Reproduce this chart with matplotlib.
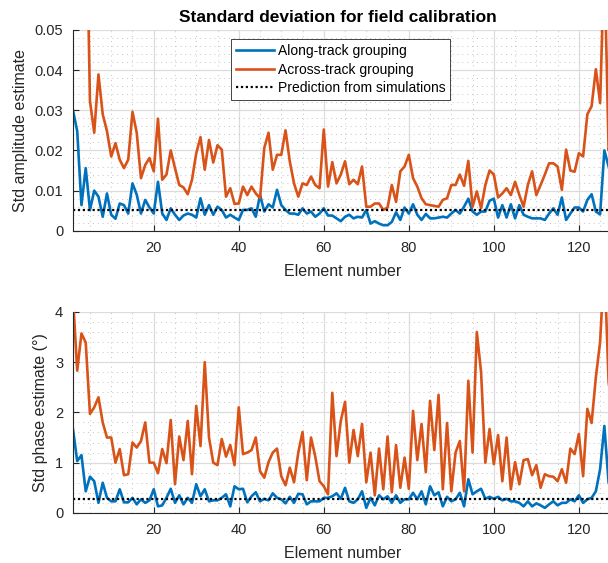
import numpy as np
import matplotlib
matplotlib.use("Agg")
import matplotlib.pyplot as plt
from matplotlib.ticker import MultipleLocator

plt.rcParams['font.family'] = ['Liberation Sans', 'DejaVu Sans']

# element index 1..128
elements = np.arange(1, 129)

# std of amplitude estimate
amp_along = [
    0.0300, 0.0248, 0.0064, 0.0156, 0.0052, 0.0100, 0.0085, 0.0035, 0.0093, 0.0040,
    0.0030, 0.0068, 0.0064, 0.0043, 0.0118, 0.0090, 0.0043, 0.0077, 0.0058, 0.0043,
    0.0122, 0.0043, 0.0027, 0.0056, 0.0040, 0.0027, 0.0038, 0.0043, 0.0040, 0.0033,
    0.0081, 0.0040, 0.0064, 0.0040, 0.0060, 0.0052, 0.0033, 0.0040, 0.0033, 0.0027,
    0.0052, 0.0052, 0.0056, 0.0035, 0.0090, 0.0048, 0.0066, 0.0058, 0.0102, 0.0064,
    0.0052, 0.0043, 0.0043, 0.0040, 0.0056, 0.0043, 0.0048, 0.0035, 0.0043, 0.0056,
    0.0038, 0.0038, 0.0031, 0.0024, 0.0035, 0.0040, 0.0031, 0.0035, 0.0033, 0.0052,
    0.0018, 0.0024, 0.0018, 0.0014, 0.0014, 0.0022, 0.0046, 0.0027, 0.0058, 0.0043,
    0.0066, 0.0040, 0.0027, 0.0042, 0.0031, 0.0031, 0.0033, 0.0035, 0.0033, 0.0043,
    0.0052, 0.0043, 0.0060, 0.0080, 0.0048, 0.0040, 0.0048, 0.0048, 0.0075, 0.0080,
    0.0033, 0.0064, 0.0033, 0.0066, 0.0031, 0.0064, 0.0040, 0.0035, 0.0031, 0.0031,
    0.0031, 0.0027, 0.0043, 0.0056, 0.0040, 0.0083, 0.0027, 0.0043, 0.0058, 0.0058,
    0.0048, 0.0077, 0.0091, 0.0048, 0.0041, 0.0200, 0.0160, 0.0120,
]
amp_across = [
    0.1100, 0.1000, 0.0950, 0.0900, 0.0323, 0.0244, 0.0389, 0.0290, 0.0248, 0.0185,
    0.0218, 0.0177, 0.0156, 0.0177, 0.0296, 0.0244, 0.0131, 0.0164, 0.0181, 0.0148,
    0.0279, 0.0127, 0.0140, 0.0200, 0.0156, 0.0114, 0.0108, 0.0091, 0.0127, 0.0193,
    0.0233, 0.0152, 0.0226, 0.0170, 0.0213, 0.0202, 0.0085, 0.0106, 0.0067, 0.0068,
    0.0110, 0.0089, 0.0110, 0.0093, 0.0081, 0.0206, 0.0244, 0.0152, 0.0189, 0.0189,
    0.0250, 0.0173, 0.0118, 0.0085, 0.0118, 0.0114, 0.0135, 0.0114, 0.0106, 0.0252,
    0.0110, 0.0171, 0.0118, 0.0140, 0.0173, 0.0116, 0.0127, 0.0116, 0.0160, 0.0060,
    0.0060, 0.0068, 0.0068, 0.0052, 0.0058, 0.0114, 0.0072, 0.0148, 0.0160, 0.0189,
    0.0131, 0.0110, 0.0081, 0.0066, 0.0064, 0.0062, 0.0060, 0.0077, 0.0081, 0.0114,
    0.0114, 0.0140, 0.0112, 0.0174, 0.0060, 0.0098, 0.0056, 0.0114, 0.0150, 0.0140,
    0.0083, 0.0093, 0.0106, 0.0089, 0.0122, 0.0089, 0.0060, 0.0114, 0.0148, 0.0089,
    0.0114, 0.0140, 0.0168, 0.0168, 0.0160, 0.0102, 0.0202, 0.0150, 0.0147, 0.0193,
    0.0185, 0.0290, 0.0310, 0.0402, 0.0318, 0.0680, 0.0200, 0.0250,
]
amp_predicted = 0.0053

# std of phase estimate (degrees)
phase_along = [
    1.67, 1.03, 1.15, 0.43, 0.72, 0.63, 0.20, 0.60, 0.30, 0.23,
    0.23, 0.47, 0.21, 0.21, 0.30, 0.17, 0.27, 0.20, 0.25, 0.47,
    0.13, 0.15, 0.30, 0.48, 0.20, 0.35, 0.17, 0.30, 0.20, 0.57,
    0.33, 0.47, 0.23, 0.25, 0.25, 0.30, 0.37, 0.13, 0.53, 0.47,
    0.48, 0.21, 0.33, 0.41, 0.23, 0.28, 0.25, 0.39, 0.30, 0.27,
    0.19, 0.32, 0.20, 0.38, 0.37, 0.17, 0.23, 0.23, 0.23, 0.30,
    0.30, 0.33, 0.39, 0.28, 0.50, 0.23, 0.20, 0.27, 0.43, 0.10,
    0.30, 0.15, 0.35, 0.27, 0.33, 0.20, 0.35, 0.20, 0.27, 0.27,
    0.40, 0.27, 0.43, 0.17, 0.53, 0.35, 0.41, 0.13, 0.32, 0.23,
    0.27, 0.40, 0.13, 0.67, 0.37, 0.43, 0.48, 0.28, 0.32, 0.28,
    0.32, 0.25, 0.28, 0.23, 0.23, 0.20, 0.13, 0.23, 0.13, 0.19,
    0.15, 0.10, 0.17, 0.23, 0.15, 0.20, 0.20, 0.27, 0.23, 0.35,
    0.20, 0.27, 0.30, 0.43, 0.87, 1.73, 0.60, 0.40,
]
phase_across = [
    4.30, 2.83, 3.57, 3.39, 1.97, 2.10, 2.30, 1.80, 1.50, 1.50,
    1.00, 1.27, 0.75, 0.77, 1.40, 1.30, 1.43, 1.80, 1.00, 1.00,
    0.79, 1.27, 0.99, 1.85, 0.57, 1.52, 1.05, 1.83, 0.77, 2.13,
    1.33, 3.00, 1.50, 1.00, 0.95, 1.47, 1.12, 1.35, 0.95, 2.10,
    1.17, 1.20, 1.25, 1.50, 0.83, 0.70, 1.01, 1.20, 1.28, 0.73,
    0.55, 0.90, 0.61, 1.20, 1.61, 0.65, 1.50, 1.12, 0.63, 0.53,
    0.37, 2.39, 1.13, 1.83, 2.21, 1.00, 1.65, 1.13, 1.77, 0.61,
    1.20, 0.35, 1.28, 0.47, 1.52, 0.41, 1.35, 0.50, 1.10, 0.48,
    2.03, 1.05, 1.77, 0.81, 2.23, 1.25, 2.35, 0.47, 1.79, 0.43,
    1.20, 1.43, 0.43, 2.63, 1.20, 3.60, 2.80, 1.00, 1.67, 0.97,
    1.55, 0.63, 1.50, 0.47, 1.01, 0.57, 1.05, 1.07, 0.75, 0.95,
    0.50, 0.77, 0.73, 0.72, 0.63, 0.87, 0.60, 1.28, 1.17, 1.57,
    0.73, 2.07, 1.79, 2.70, 3.40, 5.00, 2.60, 2.00,
]
phase_predicted = 0.28

BLUE = '#0072BD'
ORANGE = '#D95319'
DARK = '#262626'


def style_axes(ax, ymax, ymajor, yminor):
    ax.set_xlim(1, 128)
    ax.set_ylim(0, ymax)
    ax.xaxis.set_major_locator(MultipleLocator(20))
    ax.xaxis.set_minor_locator(MultipleLocator(5))
    ax.yaxis.set_major_locator(MultipleLocator(ymajor))
    ax.yaxis.set_minor_locator(MultipleLocator(yminor))
    ax.grid(which='major', color='#dcdcdc', lw=0.9, ls='-')
    ax.grid(which='minor', color='#c4c4c4', lw=0.7, ls=(0, (1, 4)))
    ax.set_axisbelow(True)
    for side in ('top', 'right'):
        ax.spines[side].set_visible(False)
    for side in ('left', 'bottom'):
        ax.spines[side].set_color(DARK)
        ax.spines[side].set_linewidth(0.8)
    ax.tick_params(which='major', direction='in', length=4, width=0.8,
                   color=DARK, labelcolor=DARK, labelsize=10.5, pad=7)
    ax.tick_params(which='minor', length=0)
    ax.set_xlabel('Element number', fontsize=11.5, color=DARK, labelpad=7)


fig = plt.figure(figsize=(6.08, 5.63), dpi=100)
ax1 = fig.add_axes([0.120, 0.590, 0.888, 0.357])
ax2 = fig.add_axes([0.120, 0.089, 0.888, 0.357])

ax1.plot(elements, amp_along, color=BLUE, lw=1.9, label='Along-track grouping')
ax1.plot(elements, amp_across, color=ORANGE, lw=1.9, label='Across-track grouping')
ax1.axhline(amp_predicted, color='black', lw=1.6, ls=(0, (1, 1.2)),
            label='Prediction from simulations')
style_axes(ax1, 0.05, 0.01, 0.002)
ax1.set_ylabel('Std amplitude estimate', fontsize=11.5, color=DARK, labelpad=5)
ax1.set_title('Standard deviation for field calibration', fontsize=12.5,
              fontweight='bold', x=0.49, pad=6)
ax1.yaxis.set_major_formatter(plt.FuncFormatter(lambda v, p: '0' if v == 0 else f'{v:.2f}'))

leg = ax1.legend(loc='upper left', bbox_to_anchor=(0.293, 0.952), fontsize=10,
                 frameon=True, fancybox=False, framealpha=1, edgecolor=DARK,
                 handlelength=2.7, handletextpad=0.3, labelspacing=0.3,
                 borderpad=0.35, borderaxespad=0)
leg.get_frame().set_linewidth(0.6)

ax2.plot(elements, phase_along, color=BLUE, lw=1.9)
ax2.plot(elements, phase_across, color=ORANGE, lw=1.9)
ax2.axhline(phase_predicted, color='black', lw=1.6, ls=(0, (1, 1.2)))
style_axes(ax2, 4, 1, 0.2)
ax2.set_ylabel('Std phase estimate (\u00b0)', fontsize=11.5, color=DARK, labelpad=5)

fig.savefig('out.png', dpi=100)
